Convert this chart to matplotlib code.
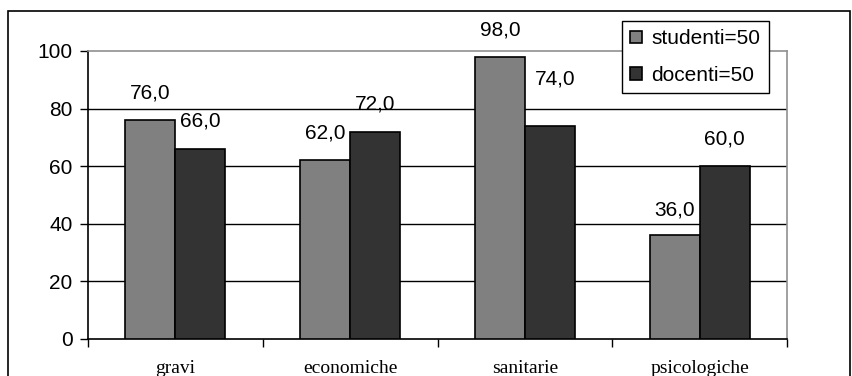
import matplotlib
matplotlib.use("Agg")
import matplotlib.pyplot as plt
from matplotlib.patches import Rectangle
import numpy as np

categories = ["gravi", "economiche", "sanitarie", "psicologiche"]
studenti = [76.0, 62.0, 98.0, 36.0]
docenti = [66.0, 72.0, 74.0, 60.0]
series_names = ["studenti=50", "docenti=50"]
y_ticks = [0, 20, 40, 60, 80, 100]

# label offsets in pixels (dx, dy) relative to the top centre of each bar
studenti_offsets = [(0, 27), (0, 27), (0, 27), (0, 25)]
docenti_offsets = [(0, 28), (0, 28), (5, 47), (0, 27)]

W, H = 852, 376
fig = plt.figure(figsize=(W / 100, H / 100), dpi=100)
ax = fig.add_axes([88 / W, 1 - 339 / H, 699 / W, 288 / H])

x = np.arange(len(categories))
bw = 0.286
b1 = ax.bar(x - bw / 2, studenti, bw, color="#808080", edgecolor="black",
            linewidth=1.2, label=series_names[0], zorder=3)
b2 = ax.bar(x + bw / 2, docenti, bw, color="#333333", edgecolor="black",
            linewidth=1.2, label=series_names[1], zorder=3)

num_font = dict(family="Liberation Sans", size=15)
for bars, vals, offs in ((b1, studenti, studenti_offsets), (b2, docenti, docenti_offsets)):
    for rect, v, (dx, dy) in zip(bars, vals, offs):
        ax.annotate(f"{v:.1f}".replace(".", ","),
                    (rect.get_x() + rect.get_width() / 2, v),
                    xytext=(dx, dy), textcoords="offset pixels",
                    ha="center", va="center", zorder=5, **num_font)

ax.set_xlim(-0.5, len(categories) - 0.5)
ax.set_ylim(0, 100)
ax.set_yticks(y_ticks)
ax.set_yticklabels([str(t) for t in y_ticks], **num_font)
ax.tick_params(axis="y", direction="out", length=6, width=1, pad=5, color="black")

ax.set_xticks(x)
ax.set_xticklabels(categories, family="Liberation Serif", size=14)
ax.tick_params(axis="x", which="major", length=0, pad=15)
ax.set_xticks(np.arange(len(categories) + 1) - 0.5, minor=True)
ax.tick_params(axis="x", which="minor", direction="out", length=6, width=1, color="black")

for yv in y_ticks[1:-1]:
    ax.axhline(yv, color="black", linewidth=1, zorder=1)

ax.spines["left"].set_color("black")
ax.spines["bottom"].set_color("black")
ax.spines["top"].set_color("#909090")
ax.spines["right"].set_color("#909090")
for s in ax.spines.values():
    s.set_linewidth(1.2)

leg = ax.legend(loc="upper left", bbox_to_anchor=(622 / W, 1 - 21 / H),
                bbox_transform=fig.transFigure, borderaxespad=0,
                prop=dict(family="Liberation Sans", size=15),
                handlelength=0.55, handleheight=0.55, handletextpad=0.45,
                labelspacing=0.85, borderpad=0.4, fancybox=False,
                framealpha=1, edgecolor="black")
leg.get_frame().set_linewidth(1.0)
leg.set_zorder(10)

fig.patches.append(Rectangle((8 / W, -0.1), (850 - 8) / W, 1.1 - 11 / H,
                             transform=fig.transFigure, fill=False,
                             edgecolor="black", linewidth=1.2))

fig.savefig("out.png", dpi=100)
